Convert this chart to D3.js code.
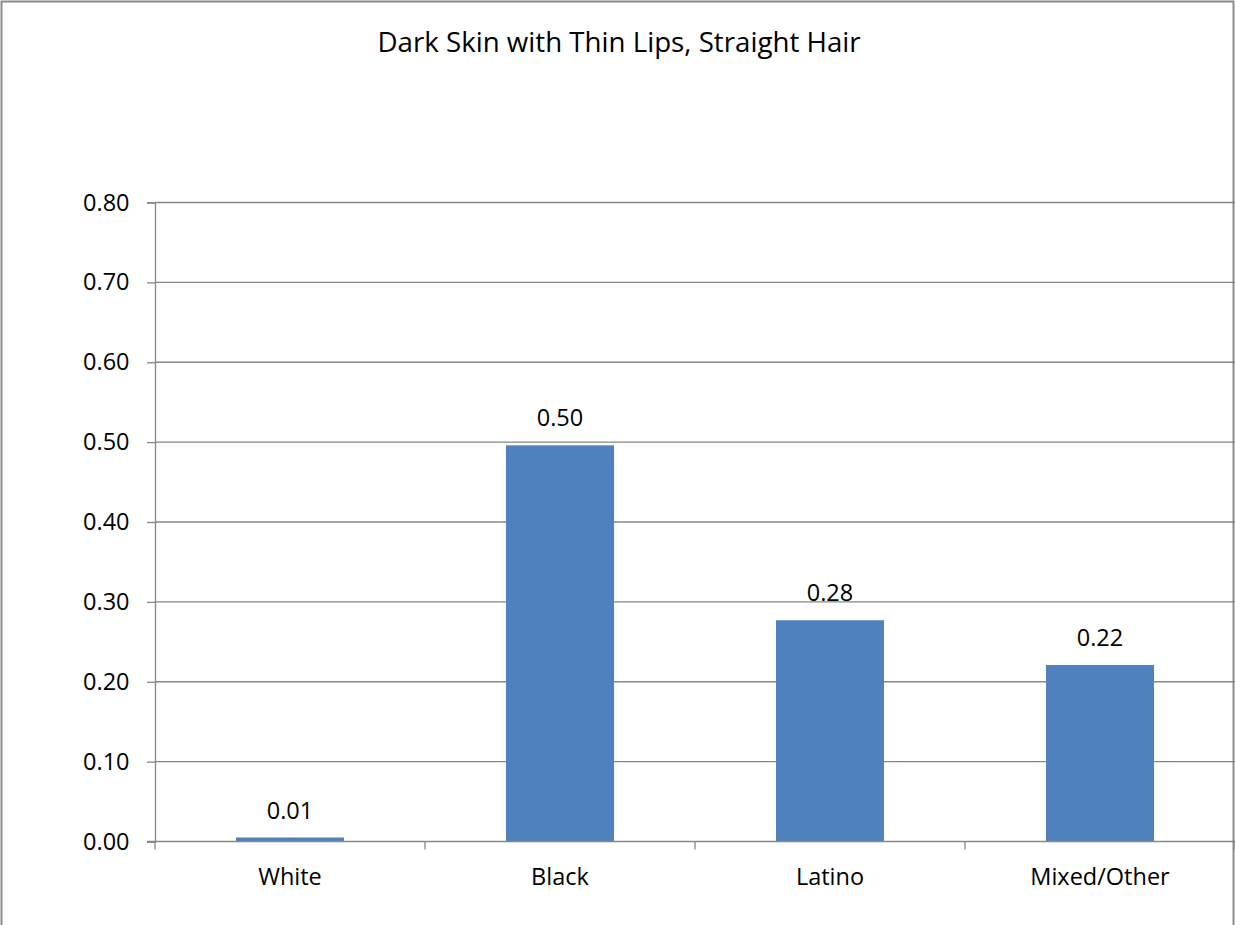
<!DOCTYPE html>
<html>
<head>
<meta charset="utf-8">
<script src="https://cdn.jsdelivr.net/npm/d3@7"></script>
<style>
  html, body { margin: 0; padding: 0; background: #fff; }
  svg { display: block; font-family: "Open Sans", "Noto Sans", "Liberation Sans", sans-serif; }
</style>
</head>
<body>
<svg id="chart" width="1235" height="925"></svg>
<script>
const title = "Dark Skin with Thin Lips, Straight Hair";
const categories = ["White", "Black", "Latino", "Mixed/Other"];
const values = [0.005, 0.496, 0.277, 0.221];
const valueLabels = ["0.01", "0.50", "0.28", "0.22"];
const yTicks = [0, 0.1, 0.2, 0.3, 0.4, 0.5, 0.6, 0.7, 0.8];

const svg = d3.select("#chart");
const W = 1235, H = 925;
const plot = { left: 155, right: 1235, top: 202.5, bottom: 841.5 };
const labelSize = 23.5;
const axisColor = "#868686";

// chart frame
svg.append("rect")
  .attr("x", 1.5).attr("y", 1.5)
  .attr("width", W - 3).attr("height", H + 10)
  .attr("fill", "#fff")
  .attr("stroke", "#8c8c8c").attr("stroke-width", 2);

const xOuter = d3.scaleBand().domain(categories).range([plot.left, plot.right]);
const y = d3.scaleLinear().domain([0, 0.8]).range([plot.bottom, plot.top]);
const barWidth = xOuter.bandwidth() * 0.4;

// horizontal gridlines
svg.append("g").selectAll("line").data(yTicks.filter(d => d > 0)).join("line")
  .attr("x1", plot.left).attr("x2", plot.right)
  .attr("y1", d => y(d)).attr("y2", d => y(d))
  .attr("stroke", axisColor).attr("stroke-width", 1.3);

// bars
svg.append("g").selectAll("rect").data(categories).join("rect")
  .attr("x", d => xOuter(d) + (xOuter.bandwidth() - barWidth) / 2)
  .attr("width", barWidth)
  .attr("y", (d, i) => y(values[i]))
  .attr("height", (d, i) => y(0) - y(values[i]))
  .attr("fill", "#4f81bd");

// y axis
const yAxis = d3.axisLeft(y).tickValues(yTicks).tickFormat(d3.format(".2f"))
  .tickSize(8).tickPadding(17.5);
const gy = svg.append("g").attr("transform", `translate(${plot.left},0)`).call(yAxis);
gy.select(".domain").attr("stroke", axisColor).attr("stroke-width", 1.3);
gy.selectAll(".tick line").attr("stroke", axisColor).attr("stroke-width", 1.3);
gy.selectAll(".tick text").attr("font-size", labelSize).attr("fill", "#000")
  .attr("font-family", "'Open Sans', 'Noto Sans', sans-serif");

// x axis baseline and category boundary ticks
svg.append("line")
  .attr("x1", plot.left - 8).attr("x2", plot.right)
  .attr("y1", y(0)).attr("y2", y(0))
  .attr("stroke", axisColor).attr("stroke-width", 1.3);
const bounds = categories.map(c => xOuter(c)).concat([plot.right]);
svg.append("g").selectAll("line").data(bounds).join("line")
  .attr("x1", d => d).attr("x2", d => d)
  .attr("y1", y(0)).attr("y2", y(0) + 8)
  .attr("stroke", axisColor).attr("stroke-width", 1.3);

// category labels
svg.append("g").selectAll("text").data(categories).join("text")
  .attr("x", d => xOuter(d) + xOuter.bandwidth() / 2)
  .attr("y", 885)
  .attr("text-anchor", "middle")
  .attr("font-size", labelSize).attr("fill", "#000")
  .text(d => d);

// value labels
svg.append("g").selectAll("text").data(categories).join("text")
  .attr("x", d => xOuter(d) + xOuter.bandwidth() / 2)
  .attr("y", (d, i) => y(values[i]) - 19)
  .attr("text-anchor", "middle")
  .attr("font-size", labelSize).attr("fill", "#000")
  .text((d, i) => valueLabels[i]);

// title
svg.append("text")
  .attr("x", 619).attr("y", 52)
  .attr("text-anchor", "middle")
  .attr("font-size", 27.7).attr("fill", "#000")
  .text(title);
</script>
</body>
</html>
